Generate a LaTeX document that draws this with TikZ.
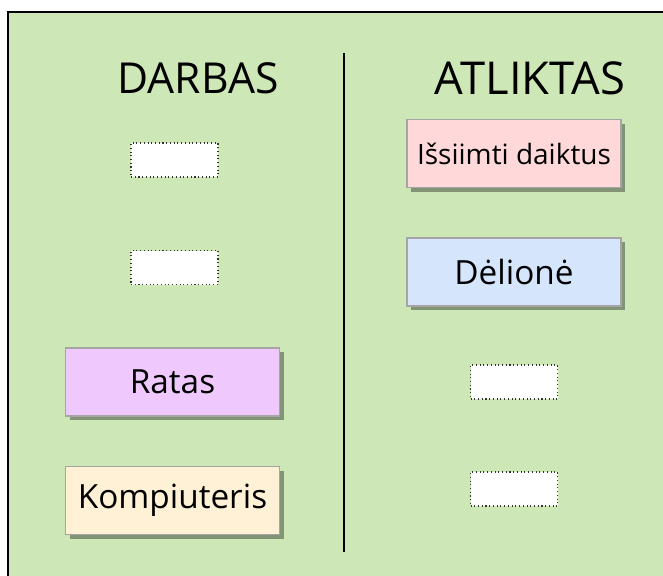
\documentclass[tikz,border=0pt]{standalone}
\usepackage{fontspec}
\setmainfont{Open Sans}
\usetikzlibrary{shadows}
\definecolor{bg}{RGB}{205,231,183}
\definecolor{cardborder}{RGB}{165,165,165}
\definecolor{pinkfill}{RGB}{255,217,217}
\definecolor{bluefill}{RGB}{213,229,252}
\definecolor{purplefill}{RGB}{239,201,253}
\definecolor{creamfill}{RGB}{255,241,214}
\begin{document}
\begin{tikzpicture}[x=0.75pt,y=-0.75pt,
  card/.style={draw=cardborder, line width=1.3pt, inner sep=0pt,
    minimum width=160.5pt, minimum height=51pt,
    drop shadow={shadow xshift=3pt, shadow yshift=-3pt, fill=black!60!bg, opacity=0.6},
    font=\fontsize{25}{29}\selectfont},
  slot/.style={draw=black!80, fill=white, dotted, line width=0.8pt, inner sep=0pt,
    minimum width=65.25pt, minimum height=25.5pt},
  header/.style={inner sep=0pt, font=\fontsize{32}{36}\selectfont}]
\useasboundingbox (0,0) rectangle (663,575);
\clip (0,0) rectangle (663,575);
\fill[white] (0,0) rectangle (663,575);
\draw[fill=bg, line width=1.8pt] (8,12) rectangle (700,620);
\coordinate (divtop) at (344,53);
\coordinate (divbot) at (344,552);
\draw[line width=1.8pt] (divtop) -- (divbot);
\node[header] (darbas) at (198,78) {DARBAS};
\node[header, font=\fontsize{34}{38}\selectfont] (atliktas) at (530,78) {ATLIKTAS};
\node[slot] (l1) at (174.5,160) {};
\node[slot] (l2) at (174.5,267.5) {};
\node[slot] (r1) at (514,382) {};
\node[slot] (r2) at (514,489) {};
\node[card, fill=pinkfill, font=\fontsize{21}{25}\selectfont] (issiimti) at (514,153.5) {Išsiimti daiktus};
\node[card, fill=bluefill] (delione) at (514,272) {Dėlionė};
\node[card, fill=purplefill] (ratas) at (172.5,382) {Ratas};
\node[card, fill=creamfill] (kompiuteris) at (172.5,500.5) {Kompiuteris};
\end{tikzpicture}
\end{document}
